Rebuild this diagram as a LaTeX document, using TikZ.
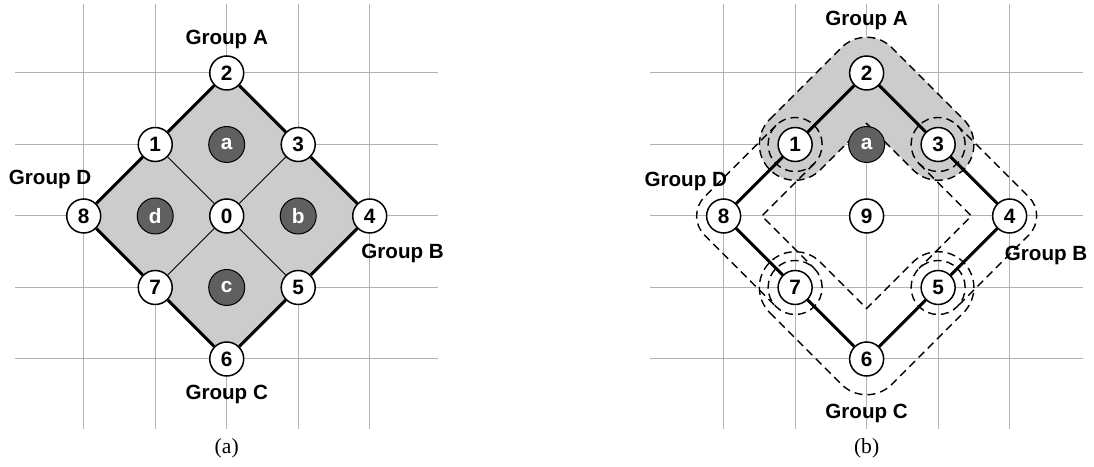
\documentclass[tikz,border=0pt]{standalone}
\usepackage{fontspec}
\setmainfont{Liberation Serif}
\setsansfont{Liberation Sans}
\usetikzlibrary{calc}
\definecolor{lightfill}{RGB}{204,204,204}
\definecolor{darkfill}{RGB}{96,96,96}
\definecolor{gridcol}{RGB}{178,178,178}
\begin{document}
\begin{tikzpicture}[x=35.75pt,y=35.75pt,
  gridline/.style={draw=gridcol, line width=0.5pt},
  vnode/.style={circle, draw=black, line width=0.75pt, fill=white, minimum size=17pt, inner sep=0pt, font=\sffamily\bfseries\fontsize{10.4}{12}\selectfont},
  dnode/.style={circle, draw=black, line width=0.5pt, fill=darkfill, minimum size=18pt, inner sep=0pt, text=white, font=\sffamily\bfseries\fontsize{10.4}{12}\selectfont},
  glabel/.style={font=\sffamily\bfseries\fontsize{10.3}{12}\selectfont, inner sep=0pt},
  caplabel/.style={font=\fontsize{10.8}{12}\selectfont, inner sep=0pt},
  thickedge/.style={line width=1.5pt},
  thinedge/.style={line width=0.5pt},
  grpline/.style={dash pattern=on 4pt off 2.5pt, line width=0.7pt}]
\useasboundingbox (-3.171,-3.510) rectangle (12.13,3.021);

% ---------------- panel (a) ----------------
\foreach \i in {-2,...,2} {
  \draw[gridline] (\i,2.965) -- (\i,-2.979);
  \draw[gridline] (-2.96,\i) -- (2.955,\i);
}
\coordinate (pa0) at (0,0);
\coordinate (pa1) at (-1,1);
\coordinate (pa2) at (0,2);
\coordinate (pa3) at (1,1);
\coordinate (pa4) at (2,0);
\coordinate (pa5) at (1,-1);
\coordinate (pa6) at (0,-2);
\coordinate (pa7) at (-1,-1);
\coordinate (pa8) at (-2,0);
\fill[lightfill] (pa2) -- (pa3) -- (pa4) -- (pa5) -- (pa6) -- (pa7) -- (pa8) -- (pa1) -- cycle;

\node[vnode] (a0) at (pa0) {0};
\node[vnode] (a1) at (pa1) {1};
\node[vnode] (a2) at (pa2) {2};
\node[vnode] (a3) at (pa3) {3};
\node[vnode] (a4) at (pa4) {4};
\node[vnode] (a5) at (pa5) {5};
\node[vnode] (a6) at (pa6) {6};
\node[vnode] (a7) at (pa7) {7};
\node[vnode] (a8) at (pa8) {8};
\node[dnode] (da) at (0,1) {a};
\node[dnode] (db) at (1,0) {b};
\node[dnode] (dc) at (0,-1) {c};
\node[dnode] (dd) at (-1,0) {d};

\draw[thinedge] (a1) -- (a0);
\draw[thinedge] (a0) -- (a5);
\draw[thinedge] (a3) -- (a0);
\draw[thinedge] (a0) -- (a7);
\draw[thickedge] (a2) -- (a3);
\draw[thickedge] (a3) -- (a4);
\draw[thickedge] (a4) -- (a5);
\draw[thickedge] (a5) -- (a6);
\draw[thickedge] (a6) -- (a7);
\draw[thickedge] (a7) -- (a8);
\draw[thickedge] (a8) -- (a1);
\draw[thickedge] (a1) -- (a2);

\node[glabel] (laA) at (0,2.476) {Group A};
\node[glabel] (laD) at (-2.47,0.51) {Group D};
\node[glabel] (laB) at (2.46,-0.53) {Group B};
\node[glabel] (laC) at (0,-2.50) {Group C};
\node[caplabel] (capa) at (0,-3.245) {(a)};

% ---------------- panel (b) ----------------
\begin{scope}[shift={(8.95,0)}]
\foreach \i in {-2,...,2} {
  \draw[gridline] (\i,2.965) -- (\i,-2.979);
  \draw[gridline] (-3.03,\i) -- (3.03,\i);
}
\coordinate (q1) at (-1,1);
\coordinate (q2) at (0,2);
\coordinate (q3) at (1,1);
\coordinate (q4) at (2,0);
\coordinate (q5) at (1,-1);
\coordinate (q6) at (0,-2);
\coordinate (q7) at (-1,-1);
\coordinate (q8) at (-2,0);

% Group A region (filled)
\path[fill=lightfill, draw=black, grpline]
  ($(q1)+(135:0.5)$) -- ($(q2)+(135:0.5)$) arc[start angle=135, end angle=45, radius=0.5]
  -- ($(q3)+(45:0.5)$) arc[start angle=45, end angle=-135, radius=0.5]
  -- ($(q2)+(0,-0.707)$) -- ($(q1)+(-45:0.5)$) arc[start angle=-45, end angle=-225, radius=0.5] -- cycle;

% Group C region
\draw[grpline]
  ($(q7)+(-135:0.5)$) -- ($(q6)+(-135:0.5)$) arc[start angle=-135, end angle=-45, radius=0.5]
  -- ($(q5)+(-45:0.5)$) arc[start angle=-45, end angle=135, radius=0.5]
  -- ($(q6)+(0,0.707)$) -- ($(q7)+(45:0.5)$) arc[start angle=45, end angle=225, radius=0.5] -- cycle;

% Group D region
\draw[grpline]
  ($(q1)+(135:0.378)$) -- ($(q8)+(135:0.378)$) arc[start angle=135, end angle=225, radius=0.378]
  -- ($(q7)+(225:0.378)$);
\draw[grpline]
  ($(q1)+(-45:0.378)$) -- ($(q8)+(0.535,0)$) -- ($(q7)+(45:0.378)$);

% Group B region
\draw[grpline]
  ($(q3)+(45:0.378)$) -- ($(q4)+(45:0.378)$) arc[start angle=45, end angle=-45, radius=0.378]
  -- ($(q5)+(-45:0.378)$);
\draw[grpline]
  ($(q3)+(-135:0.378)$) -- ($(q4)+(-0.535,0)$) -- ($(q5)+(135:0.378)$);

% small dashed rings
\foreach \q in {q1,q3,q5,q7} {
  \draw[grpline] (\q) circle[radius=0.378];
}

\node[vnode] (b1) at (q1) {1};
\node[vnode] (b2) at (q2) {2};
\node[vnode] (b3) at (q3) {3};
\node[vnode] (b4) at (q4) {4};
\node[vnode] (b5) at (q5) {5};
\node[vnode] (b6) at (q6) {6};
\node[vnode] (b7) at (q7) {7};
\node[vnode] (b8) at (q8) {8};
\node[vnode] (b9) at (0,0) {9};
\node[dnode] (ba) at (0,1) {a};

\draw[thickedge] (b1) -- (b2);
\draw[thickedge] (b2) -- (b3);
\draw[thickedge] (b3) -- (b4);
\draw[thickedge] (b4) -- (b5);
\draw[thickedge] (b5) -- (b6);
\draw[thickedge] (b6) -- (b7);
\draw[thickedge] (b7) -- (b8);
\draw[thickedge] (b8) -- (b1);

\node[glabel] (lbA) at (0,2.74) {Group A};
\node[glabel] (lbD) at (-2.53,0.48) {Group D};
\node[glabel] (lbB) at (2.51,-0.555) {Group B};
\node[glabel] (lbC) at (0,-2.755) {Group C};
\node[caplabel] (capb) at (0,-3.245) {(b)};
\end{scope}
\end{tikzpicture}
\end{document}
